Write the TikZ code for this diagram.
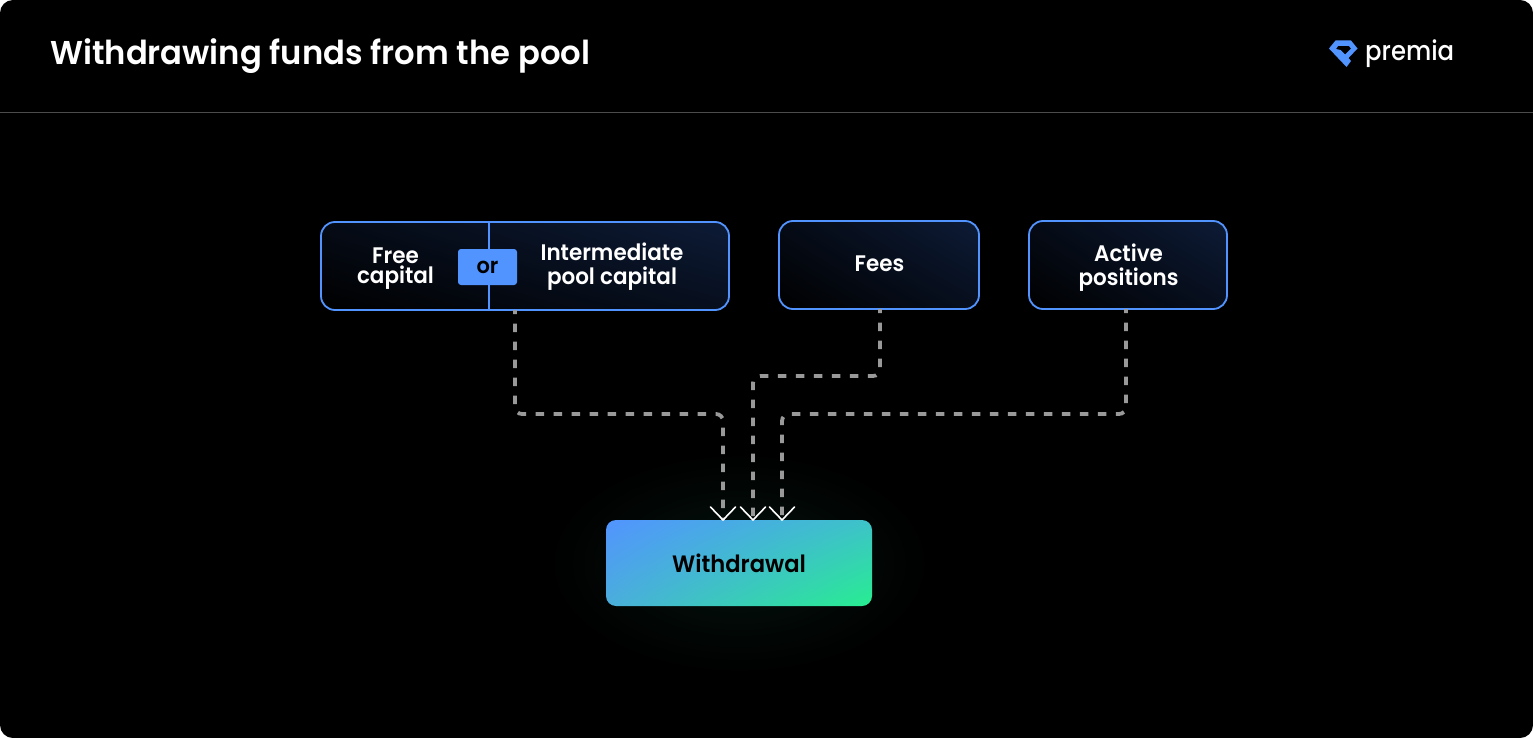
\documentclass[tikz,border=0pt]{standalone}
\usepackage{fontspec}
\usetikzlibrary{arrows.meta,shadings}
\setmainfont{Poppins}
\newfontfamily\medf{Poppins SemiBold}[FakeStretch=0.977]
\newfontfamily\labf{Poppins SemiBold}[FakeStretch=0.955]
\newfontfamily\logof{Poppins Medium}[FakeStretch=0.9]
\definecolor{blueb}{HTML}{5294FF}
\definecolor{greenb}{HTML}{27EE90}
\definecolor{darkb}{HTML}{0D1B36}
\definecolor{dashg}{HTML}{999999}
\definecolor{glowc}{HTML}{04130D}
\tikzset{
  px/.style={x=1pt,y=-1pt},
  lbl/.style={text=white,font=\labf\fontsize{22.5}{24}\selectfont,align=center,inner sep=0pt},
  boxn/.style={draw=blueb,line width=1.8pt,rounded corners=14pt,inner sep=0pt,lower left=black,lower right=black!45!darkb,upper left=black!60!darkb,upper right=darkb},
  conn/.style={draw=dashg,line width=3.8pt,dash pattern=on 8.5pt off 9.5pt,dash phase=4.5pt,rounded corners=7pt},
  tipv/.style={draw=white,line width=1.6pt,line cap=round},
}
\begin{document}
\begin{tikzpicture}[px]
\useasboundingbox (0,0) rectangle (1533,738);
\fill[white] (0,0) rectangle (1533,738);
\fill[black,rounded corners=13pt] (0,0) rectangle (1533,738);
\draw[draw=white!30!black,line width=0.8pt] (0,112.5) -- (1533,112.5);
\node[anchor=base west,inner sep=0pt,text=white,font=\medf\fontsize{33}{36}\selectfont] (title) at (50,65) {Withdrawing funds from the pool};
% logo
\fill[blueb,even odd rule] (1335.5,40.5) -- (1351,40.5) -- (1357.5,48.5) -- (1348.5,58) -- (1351,61) -- (1346.5,67) -- (1329,48.5) -- cycle
 (1338,46) -- (1349,46) -- (1351,48.5) -- (1345,54.5) -- (1340.5,50) -- (1336,49) -- cycle;
\node[anchor=base west,inner sep=0pt,text=white,font=\logof\fontsize{27}{30}\selectfont] (logo) at (1365,61) {premia};
% glow
\shade[inner color=glowc,outer color=black] (739,563) ellipse [x radius=190,y radius=110];
% boxes
\node[boxn,minimum width=408pt,minimum height=88pt] (pool) at (525,266) {};
\node[boxn,minimum width=200pt,minimum height=88pt] (fees) at (879,265) {};
\node[boxn,minimum width=198pt,minimum height=88pt] (active) at (1128,265) {};
\node[rounded corners=10pt,minimum width=266pt,minimum height=86pt,inner sep=0pt,upper left=blueb,lower right=greenb,upper right={rgb,255:red,61;green,195;blue,200},lower left={rgb,255:red,74;green,174;blue,219}] (wd) at (739,563) {};
\node[inner sep=0pt,text=black,font=\labf\fontsize{23.7}{24}\selectfont] (wdl) at (739,563) {Withdrawal};
\coordinate (divt) at (489,222);
\coordinate (divb) at (489,310);
\draw[blueb,line width=1.8pt] (divt) -- (divb);
\node[fill=blueb,rounded corners=3pt,minimum width=59pt,minimum height=36pt,inner sep=0pt,text=black,font=\labf\fontsize{22}{24}\selectfont] (or) at (487.5,267) {or};
\node[lbl,font=\labf\fontsize{22.5}{19.5}\selectfont] (free) at (395.5,268.5) {Free\\capital};
\node[lbl] (inter) at (612,267) {Intermediate\\pool capital};
\node[lbl] (feesl) at (879.5,264) {Fees};
\node[lbl] (activel) at (1128.5,268) {Active\\positions};
% connectors
\coordinate (a1) at (515,310);
\coordinate (a2) at (723,520);
\coordinate (b1) at (880,309);
\coordinate (b2) at (753,520);
\coordinate (c1) at (1126,309);
\coordinate (c2) at (782,520);
\draw[conn] (a1) |- (723,414) -- (a2);
\draw[conn] (b1) |- (753,376) -- (b2);
\draw[conn] (c1) |- (782,414) -- (c2);
\draw[tipv] ([shift={(-12.5,-13)}]a2) -- (a2) -- ([shift={(12.5,-13)}]a2);
\draw[tipv] ([shift={(-12.5,-13)}]b2) -- (b2) -- ([shift={(12.5,-13)}]b2);
\draw[tipv] ([shift={(-12.5,-13)}]c2) -- (c2) -- ([shift={(12.5,-13)}]c2);
\end{tikzpicture}
\end{document}
